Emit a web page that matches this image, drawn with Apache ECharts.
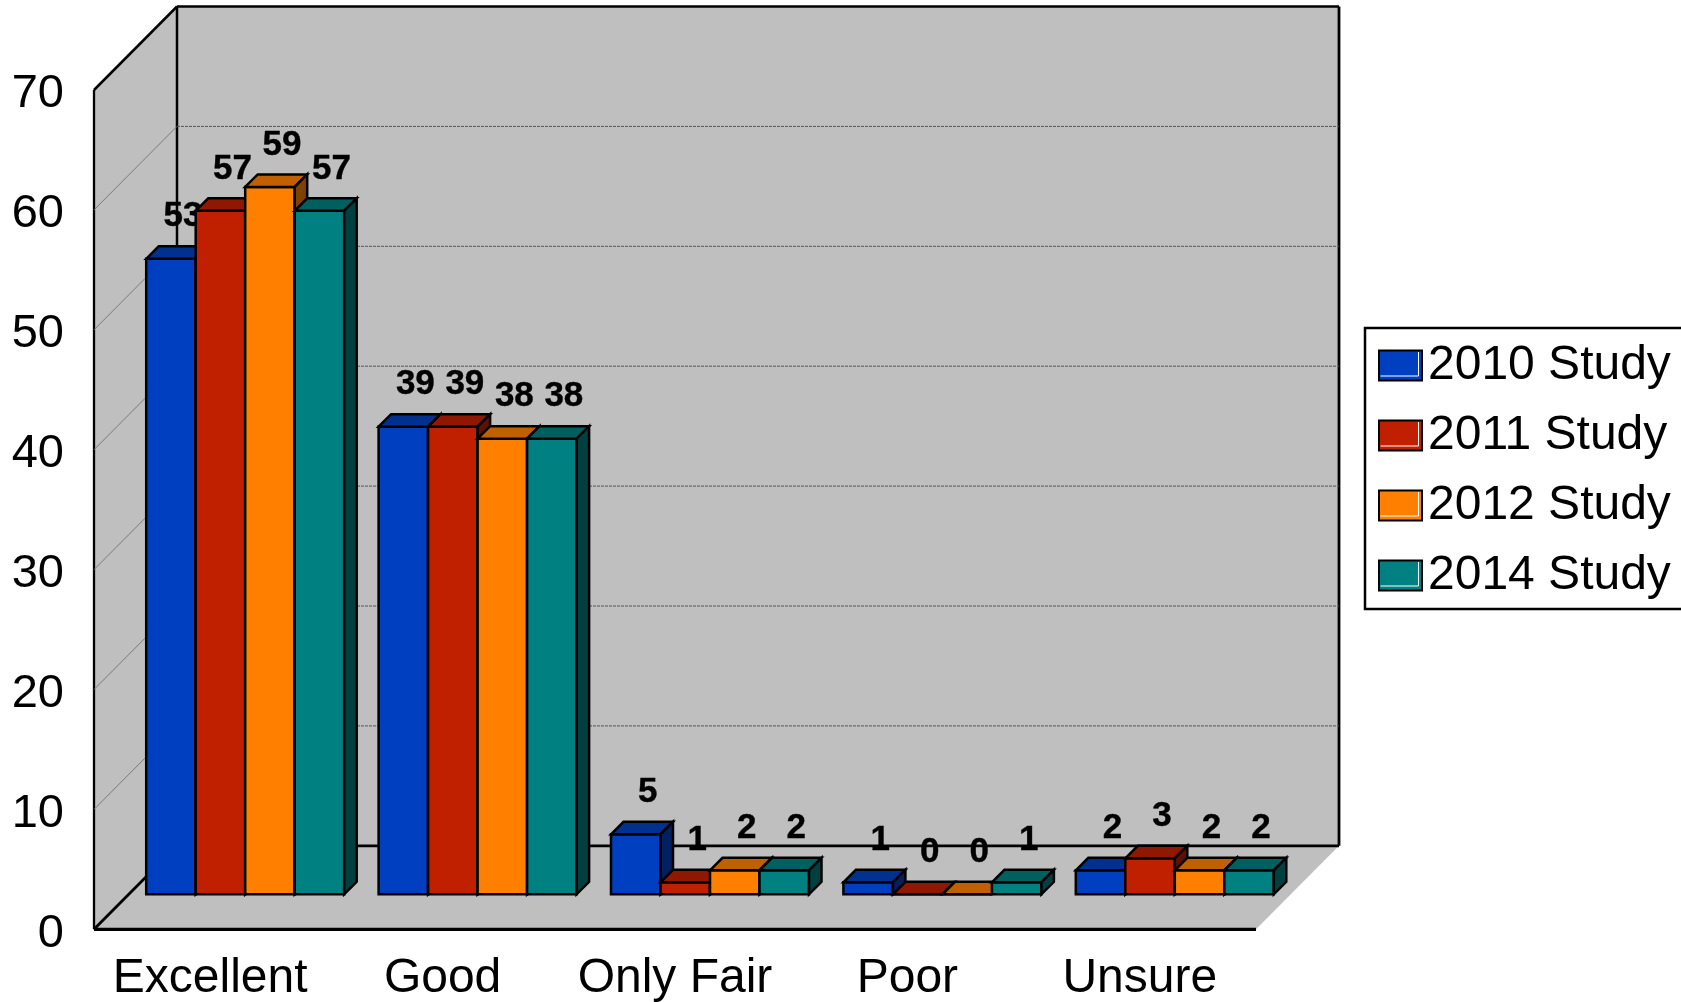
<!DOCTYPE html>
<html>
<head>
<meta charset="utf-8">
<style>html,body{margin:0;padding:0;background:#fff;overflow:hidden}#c{width:1681px;height:1002px}</style>
<script src="https://cdn.jsdelivr.net/npm/echarts@6/dist/echarts.min.js"></script>
</head>
<body>
<div id="c"></div>
<script>
const categories = ['Excellent', 'Good', 'Only Fair', 'Poor', 'Unsure'];
const study2010 = [53, 39, 5, 1, 2];
const study2011 = [57, 39, 1, 0, 3];
const study2012 = [59, 38, 2, 0, 2];
const study2014 = [57, 38, 2, 1, 2];
const yTicks = [10, 20, 30, 40, 50, 60];

const font = '"Liberation Sans", Arial, sans-serif';
const WALL = '#BFBFBF';
const DX = 83, DY = 83.5;        // wall depth
const INSET = 35;                // bars sit this far into the floor
const BD = 12.5;                 // bar depth
const FILL = 0.852;              // share of band used by the cluster
const studies = [
  { name: '2010 Study', values: study2010, front: '#0040C0', top: '#003090', side: '#002060' },
  { name: '2011 Study', values: study2011, front: '#C02000', top: '#901800', side: '#601000' },
  { name: '2012 Study', values: study2012, front: '#FF8000', top: '#C06000', side: '#804000' },
  { name: '2014 Study', values: study2014, front: '#008080', top: '#006060', side: '#004040' }
];

function poly(points, fill, stroke, lw) {
  return { type: 'polygon', shape: { points }, style: { fill, stroke: stroke || null, lineWidth: lw || 0, lineJoin: 'miter' } };
}
function line(x1, y1, x2, y2, stroke, lw, dash) {
  return { type: 'line', shape: { x1, y1, x2, y2 }, style: { stroke, lineWidth: lw, lineDash: dash || null, fill: null } };
}

function renderWalls(params, api) {
  const c = params.coordSys;
  const L = c.x, R = c.x + c.width, T = c.y, B = c.y + c.height;
  return { type: 'group', silent: true, children: [
    poly([[L, B], [L + DX, B - DY], [R + DX, B - DY], [R, B]], WALL),
    poly([[L + DX, B - DY], [L + DX, T - DY], [R + DX, T - DY], [R + DX, B - DY]], WALL),
    poly([[L, B], [L, T], [L + DX, T - DY], [L + DX, B - DY]], WALL),
    line(L, T, L, B, '#000', 2.3),
    line(L, T, L + DX, T - DY, '#000', 2.5),
    line(L + DX, T - DY, R + DX, T - DY, '#000', 2.5),
    line(L + DX, T - DY, L + DX, B - DY, '#000', 2.5),
    line(R + DX, T - DY, R + DX, B - DY, '#000', 2.8),
    line(L + DX, B - DY, R + DX, B - DY, '#000', 2.8),
    line(L, B, L + DX, B - DY, '#000', 2.8),
    line(L, B, R, B, '#000', 3.2)
  ] };
}

function renderGrid(params, api) {
  const c = params.coordSys;
  const y = api.coord([0, api.value(1)])[1];
  return { type: 'group', silent: true, children: [
    line(c.x, y, c.x + DX, y - DY, '#7a7a7a', 1),
    line(c.x + DX, y - DY, c.x + c.width + DX, y - DY, '#555', 1, [3, 1])
  ] };
}

function makeBarRenderer(seriesIdx) {
  const s = studies[seriesIdx];
  return function (params, api) {
    const cat = api.value(0), val = api.value(1);
    const band = api.size([1, 0])[0];
    const w = band * FILL / studies.length;
    const center = api.coord([cat, 0])[0];
    const x0 = center - band * FILL / 2 + seriesIdx * w + INSET;
    const x1 = x0 + w;
    const base = api.coord([cat, 0])[1] - INSET;
    const top = api.coord([cat, val])[1] - INSET;
    const lw = 2.5;
    return { type: 'group', silent: true, children: [
      poly([[x0, base], [x0, top], [x1, top], [x1, base]], s.front, '#000', lw),
      poly([[x0, top], [x0 + BD, top - BD], [x1 + BD, top - BD], [x1, top]], s.top, '#000', lw),
      poly([[x1, base], [x1, top], [x1 + BD, top - BD], [x1 + BD, base - BD]], s.side, '#000', lw),
      { type: 'text', x: (x0 + x1) / 2 + 12, y: top - BD - 29.5,
        style: { text: String(val), fill: '#000', stroke: '#000', lineWidth: 0.4, align: 'center', verticalAlign: 'middle',
                 fontFamily: font, fontWeight: 'bold', fontSize: 35 } }
    ] };
  };
}

const series = [
  { name: 'walls', type: 'custom', renderItem: renderWalls, data: [[0, 0]], silent: true, clip: false },
  { name: 'grid', type: 'custom', renderItem: renderGrid, data: yTicks.map(v => [0, v]), silent: true, clip: false }
];
studies.forEach((s, i) => series.push({
  name: s.name, type: 'custom', renderItem: makeBarRenderer(i), clip: false,
  itemStyle: { color: s.front, borderColor: '#000', borderWidth: 2.5 },
  encode: { x: 0, y: 1 },
  data: s.values.map((v, c) => [c, v])
}));

// thin white bevel on the legend swatches
const swatchBevels = studies.map((s, i) => ({
  type: 'polyline', z: 100, silent: true,
  shape: { points: [[1380.5, 376 + i * 70], [1418.5, 376 + i * 70], [1418.5, 352 + i * 70]] },
  style: { stroke: '#fff', lineWidth: 1, fill: null }
}));

const chart = echarts.init(document.getElementById('c'), null, { renderer: 'canvas' });
chart.setOption({
  animation: false,
  backgroundColor: '#fff',
  grid: { left: 94, top: 90, width: 1162, height: 839.3, outerBoundsMode: 'none' },
  xAxis: {
    type: 'category', data: categories,
    axisLine: { show: false }, axisTick: { show: false }, splitLine: { show: false },
    axisLabel: { fontFamily: font, fontSize: 48, color: '#000', margin: 25, interval: 0 }
  },
  yAxis: {
    type: 'value', min: 0, max: 70, interval: 10,
    axisLine: { show: false }, axisTick: { show: false }, splitLine: { show: false },
    axisLabel: { fontFamily: font, fontSize: 47, color: '#000', margin: 30, verticalAlign: 'top', lineHeight: 9 }
  },
  legend: {
    show: true, orient: 'vertical', left: 1365, top: 328,
    data: studies.map(s => s.name),
    selectedMode: false,
    icon: 'rect',
    itemWidth: 43, itemHeight: 30, itemGap: 22,
    padding: [13.5, 40, 9.5, 13],
    borderColor: '#000', borderWidth: 2.5, backgroundColor: '#fff',
    textStyle: { fontFamily: font, fontSize: 48, color: '#000', padding: [0, 0, 0, 1] }
  },
  graphic: swatchBevels,
  series
});
</script>
</body>
</html>
